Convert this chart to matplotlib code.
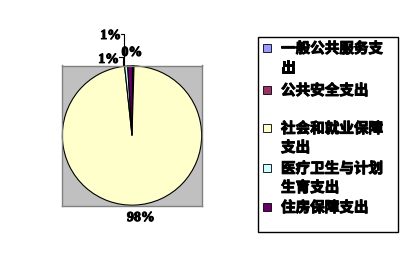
import matplotlib
matplotlib.use("Agg")
import matplotlib.pyplot as plt
import matplotlib.patheffects as pe
from matplotlib.patches import Rectangle

# data (percent of total spending)
categories = ["一般公共服务支出", "公共安全支出", "社会和就业保障支出",
              "医疗卫生与计划生育支出", "住房保障支出"]
legend_lines = [["一般公共服务支", "出"], ["公共安全支出"],
                ["社会和就业保障", "支出"], ["医疗卫生与计划", "生育支出"],
                ["住房保障支出"]]
values = [0.15, 0.2, 97.85, 0.7, 1.1]
pct_labels = ["", "0%", "98%", "1%", "1%"]

colors = ["#9999FF", "#993366", "#FFFFCC", "#CCFFFF", "#660066"]
cjk = ["Noto Sans CJK SC", "DejaVu Sans"]
W, H = 407, 272
R_PX = 70.0  # pie radius in pixels
heavy = [pe.withStroke(linewidth=0.7, foreground="black")]


def fx(x):
    return x / W


def fy(y):
    return 1 - y / H


fig = plt.figure(figsize=(W / 100, H / 100), dpi=100)
fig.patch.set_facecolor("white")

ax = fig.add_axes([fx(62), fy(206), 140 / W, 141 / H])
ax.pie(values, colors=colors, startangle=89.6, counterclock=False,
       radius=1, frame=True,
       wedgeprops=dict(edgecolor="black", linewidth=0.8))
ax.set_xlim(-1.005, 1.005)
ax.set_ylim(-1.005, 1.005)
ax.set_xticks([])
ax.set_yticks([])
ax.set_facecolor("#C0C0C0")
for s in ax.spines.values():
    s.set_edgecolor("#808080")
    s.set_linewidth(1.0)

# data labels (Excel style placement, in pixel offsets from pie centre)
cx, cy = 132.2, 135.5


def dx(x):
    return (x - cx) / R_PX


def dy(y):
    return (cy - y) / R_PX


lab_font = dict(family="Liberation Serif", fontweight="bold", fontsize=10,
                color="black")
label_pos = [None, (132, 52, "center"), (141, 218, "center"),
             (119, 59, "right"), (121, 35, "right")]
for txt, pos in zip(pct_labels, label_pos):
    if not txt or pos is None:
        continue
    x, y, ha = pos
    ax.text(dx(x), dy(y), txt, ha=ha, va="center", clip_on=False,
            path_effects=heavy, **lab_font)

# leader lines for the two small slices
leaders = [[(119, 57), (123, 57), (123, 66)],
           [(121, 33), (124, 33), (124, 66)]]
for pts in leaders:
    ax.plot([dx(p[0]) for p in pts], [dy(p[1]) for p in pts],
            color="black", lw=0.8, clip_on=False)

# legend box
fig.patches.append(Rectangle((fx(258), fy(232)), 140 / W, 195 / H,
                             transform=fig.transFigure, fill=False,
                             edgecolor="black", linewidth=1.0))
entry_y = [48, 90, 128, 168, 207]
line_h = 19
for lines, col, y0 in zip(legend_lines, colors, entry_y):
    fig.patches.append(Rectangle((fx(263), fy(y0 + 4)), 8 / W, 8 / H,
                                 transform=fig.transFigure, facecolor=col,
                                 edgecolor="black", linewidth=0.6))
    for k, line in enumerate(lines):
        fig.text(fx(281), fy(y0 + k * line_h), line, ha="left", va="center",
                 family=cjk, fontweight="bold", fontsize=10.5,
                 path_effects=heavy)

fig.savefig("out.png", dpi=100)
